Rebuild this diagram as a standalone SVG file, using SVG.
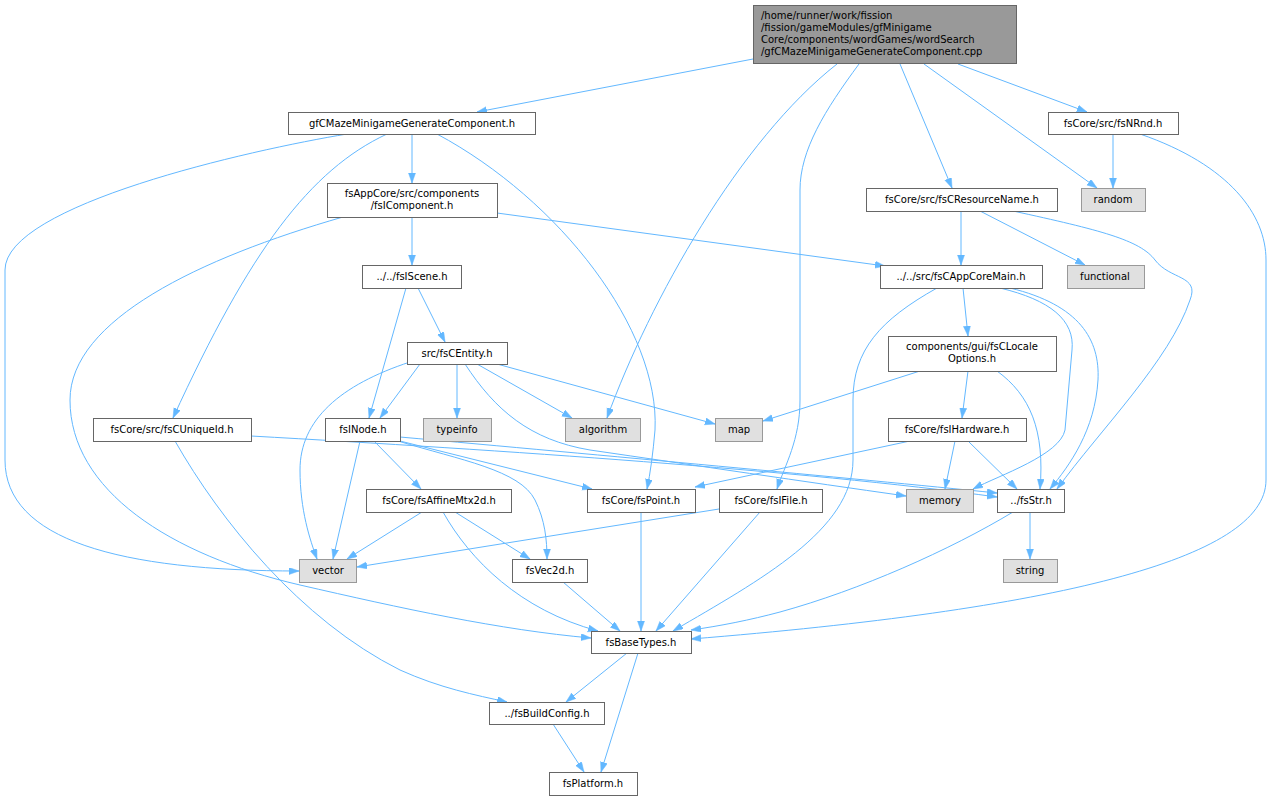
<svg xmlns="http://www.w3.org/2000/svg" width="1272" height="800" viewBox="0 0 1272 800">
<style>
.n rect{fill:#ffffff;stroke:#666666;stroke-width:1}
.g rect{fill:#e0e0e0;stroke:#999999;stroke-width:1}
.r rect{fill:#999999;stroke:#666666;stroke-width:1}
text{font-family:"DejaVu Sans","Liberation Sans",sans-serif;font-size:10px;fill:#000000;text-anchor:middle}
.r text{text-anchor:start}
#edges path{fill:none;stroke:#63b8ff;stroke-width:1;marker-end:url(#arr)}
</style>
<defs>
<marker id="arr" markerUnits="userSpaceOnUse" markerWidth="11" markerHeight="8" refX="10" refY="3.5" orient="auto">
<path d="M0,0 L10,3.5 L0,7 z" fill="#63b8ff" stroke="#63b8ff" stroke-width="0.5"/>
</marker>
</defs>
<rect width="1272" height="800" fill="#ffffff"/>
<g id="edges">
<path d="M753,59 L477,112"/>
<path d="M837,64 C740,140 650,300 607,418"/>
<path d="M859,64 C825,110 800,150 800,190 L800,400 C800,440 785,465 777,489"/>
<path d="M900,64 L952,188"/>
<path d="M924,64 L1097,188"/>
<path d="M958,64 L1087,112"/>
<path d="M347,134 C250,150 5,205 5,270 L5,460 C5,540 120,571 299,571"/>
<path d="M387,134 C310,170 250,250 173,418"/>
<path d="M412,134 L412,183"/>
<path d="M437,134 C560,200 660,330 655,430 Q652,465 647,489"/>
<path d="M412,217 L412,265"/>
<path d="M497,213 L885,266"/>
<path d="M343,217 C200,258 70,320 70,400 C70,490 170,555 300,585 C400,608 500,630 591,638"/>
<path d="M406,288 L369,418"/>
<path d="M418,288 L445,342"/>
<path d="M420,364 L380,418"/>
<path d="M457,364 L457,418"/>
<path d="M477,364 L572,418"/>
<path d="M497,364 L715,424"/>
<path d="M465,364 C495,410 530,440 590,450 C700,466 800,481 906,496"/>
<path d="M410,362 C340,385 300,420 300,470 C300,510 310,540 317,559"/>
<path d="M360,441 L333,559"/>
<path d="M374,441 L421,489"/>
<path d="M400,441 L592,489"/>
<path d="M398,441 C460,460 520,470 535,500 C545,520 547,540 547,559"/>
<path d="M400,437 C600,455 850,478 997,493"/>
<path d="M251,436 C500,450 800,470 997,497"/>
<path d="M175,441 C220,520 300,620 400,670 C440,688 475,695 507,702"/>
<path d="M422,512 L347,559"/>
<path d="M455,512 L530,559"/>
<path d="M443,512 C470,560 520,610 598,631"/>
<path d="M641,512 L641,631"/>
<path d="M563,582 L620,631"/>
<path d="M760,512 L656,631"/>
<path d="M719,509 L357,567"/>
<path d="M963,288 L968,336"/>
<path d="M937,288 C880,320 853,350 853,400 L853,460 C853,530 760,580 673,631"/>
<path d="M1000,288 C1050,300 1075,320 1072,350 L1065,430 C1060,455 1000,475 973,489"/>
<path d="M1010,288 C1080,305 1100,340 1098,380 C1095,430 1070,465 1050,489"/>
<path d="M961,211 L961,265"/>
<path d="M980,211 L1085,265"/>
<path d="M1013,211 C1100,230 1140,240 1155,260 C1170,280 1200,275 1190,300 C1170,360 1100,430 1057,489"/>
<path d="M920,371 L763,421"/>
<path d="M968,371 L962,418"/>
<path d="M997,371 C1030,395 1045,430 1040,489"/>
<path d="M910,441 L695,487"/>
<path d="M955,441 L945,489"/>
<path d="M968,441 L1017,489"/>
<path d="M1030,512 L1030,559"/>
<path d="M1013,512 C950,550 860,590 780,612 C750,620 720,626 691,630"/>
<path d="M627,653 L566,702"/>
<path d="M638,653 L601,772"/>
<path d="M553,724 L584,772"/>
<path d="M1113,134 L1113,188"/>
<path d="M1140,134 C1230,165 1266,215 1266,260 L1266,480 C1266,560 1050,610 691,639"/>
</g>
<g id="root" class="r"><rect x="753.5" y="5.5" width="263" height="58"/>
<text x="761" y="19">/home/runner/work/fission</text>
<text x="761" y="31">/fission/gameModules/gfMinigame</text>
<text x="761" y="43">Core/components/wordGames/wordSearch</text>
<text x="761" y="55">/gfCMazeMinigameGenerateComponent.cpp</text></g>
<g id="gfc" class="n"><rect x="288.5" y="112.5" width="247" height="22"/><text x="412" y="127">gfCMazeMinigameGenerateComponent.h</text></g>
<g id="fsicomponent" class="n"><rect x="327.5" y="183.5" width="170" height="34"/><text x="412" y="197">fsAppCore/src/components</text><text x="412" y="209">/fsIComponent.h</text></g>
<g id="fsiscene" class="n"><rect x="362.5" y="265.5" width="99" height="23"/><text x="412" y="280">../../fsIScene.h</text></g>
<g id="fscentity" class="n"><rect x="407.5" y="342.5" width="100" height="22"/><text x="457" y="357">src/fsCEntity.h</text></g>
<g id="fscuniqueid" class="n"><rect x="93.5" y="418.5" width="158" height="23"/><text x="172" y="433">fsCore/src/fsCUniqueId.h</text></g>
<g id="fsinode" class="n"><rect x="325.5" y="418.5" width="75" height="23"/><text x="363" y="433">fsINode.h</text></g>
<g id="typeinfo" class="g"><rect x="423.5" y="418.5" width="68" height="23"/><text x="457" y="433">typeinfo</text></g>
<g id="algorithm" class="g"><rect x="565.5" y="418.5" width="75" height="23"/><text x="603" y="433">algorithm</text></g>
<g id="map" class="g"><rect x="715.5" y="418.5" width="47" height="23"/><text x="739" y="433">map</text></g>
<g id="fsihardware" class="n"><rect x="888.5" y="418.5" width="138" height="23"/><text x="957" y="433">fsCore/fsIHardware.h</text></g>
<g id="fsaffine" class="n"><rect x="366.5" y="489.5" width="145" height="23"/><text x="439" y="504">fsCore/fsAffineMtx2d.h</text></g>
<g id="fspoint" class="n"><rect x="587.5" y="489.5" width="108" height="23"/><text x="641" y="504">fsCore/fsPoint.h</text></g>
<g id="fsifile" class="n"><rect x="719.5" y="489.5" width="103" height="23"/><text x="771" y="504">fsCore/fsIFile.h</text></g>
<g id="memory" class="g"><rect x="906.5" y="489.5" width="67" height="23"/><text x="940" y="504">memory</text></g>
<g id="fsstr" class="n"><rect x="997.5" y="489.5" width="67" height="23"/><text x="1031" y="504">../fsStr.h</text></g>
<g id="vector" class="g"><rect x="299.5" y="559.5" width="57" height="23"/><text x="328" y="574">vector</text></g>
<g id="fsvec2d" class="n"><rect x="512.5" y="559.5" width="75" height="23"/><text x="550" y="574">fsVec2d.h</text></g>
<g id="string" class="g"><rect x="1003.5" y="559.5" width="54" height="23"/><text x="1030" y="574">string</text></g>
<g id="fsbasetypes" class="n"><rect x="591.5" y="631.5" width="100" height="22"/><text x="641" y="646">fsBaseTypes.h</text></g>
<g id="fsbuildconfig" class="n"><rect x="489.5" y="702.5" width="115" height="22"/><text x="547" y="717">../fsBuildConfig.h</text></g>
<g id="fsplatform" class="n"><rect x="549.5" y="772.5" width="88" height="23"/><text x="593" y="787">fsPlatform.h</text></g>
<g id="fsnrnd" class="n"><rect x="1048.5" y="112.5" width="130" height="22"/><text x="1113" y="127">fsCore/src/fsNRnd.h</text></g>
<g id="random" class="g"><rect x="1081.5" y="188.5" width="64" height="23"/><text x="1113" y="203">random</text></g>
<g id="fscresourcename" class="n"><rect x="866.5" y="188.5" width="191" height="23"/><text x="962" y="203">fsCore/src/fsCResourceName.h</text></g>
<g id="fscappcoremain" class="n"><rect x="880.5" y="265.5" width="162" height="23"/><text x="961" y="280">../../src/fsCAppCoreMain.h</text></g>
<g id="functional" class="g"><rect x="1067.5" y="265.5" width="77" height="23"/><text x="1105" y="280">functional</text></g>
<g id="fsclocaleoptions" class="n"><rect x="888.5" y="336.5" width="168" height="35"/><text x="972" y="350">components/gui/fsCLocale</text><text x="972" y="362">Options.h</text></g>
</svg>
